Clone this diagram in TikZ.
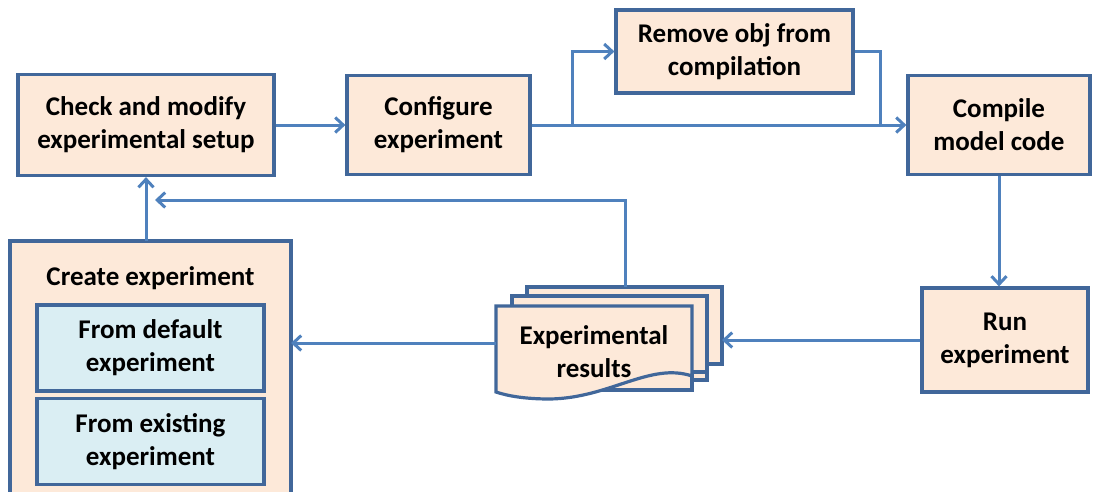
\documentclass[tikz,border=0pt]{standalone}
\usepackage{fontspec}
\setmainfont{Carlito}
\usetikzlibrary{arrows.meta}
\definecolor{peach}{HTML}{FDE9D9}
\definecolor{lblue}{HTML}{DAEEF3}
\definecolor{edge}{HTML}{41679A}
\definecolor{arr}{HTML}{4F81BD}
\tikzset{
  box/.style={draw=edge, line width=3.2pt, fill=peach, align=center, font=\fontsize{27}{33}\selectfont\bfseries, inner sep=0pt},
  inbox/.style={box, fill=lblue},
  conn/.style={draw=arr, line width=3pt, -{Straight Barb[length=8pt,width=15pt,line width=3pt]}},
  line/.style={draw=arr, line width=3pt},
  lbl/.style={align=center, font=\fontsize{27}{33}\selectfont\bfseries, inner sep=0pt}
}
\begin{document}
\begin{tikzpicture}[x=1pt,y=-1pt]
\useasboundingbox (0,0) rectangle (1097,491);
\clip (0,0) rectangle (1097,491);
% boxes
\node[box, minimum width=256pt, minimum height=101pt] (check) at (146,125) {Check and modify\\experimental setup};
\node[box, minimum width=183pt, minimum height=99pt] (config) at (438.5,125) {Configure\\experiment};
\node[box, minimum width=237pt, minimum height=83pt] (remove) at (734.5,51.5) {Remove obj from\\compilation};
\node[box, minimum width=182pt, minimum height=99pt] (compile) at (999,125) {Compile\\model code};
\node[box, minimum width=166pt, minimum height=104pt] (run) at (1005,340) {Run\\experiment};
% create experiment container
\fill[peach] (10,241) rectangle (291,495);
\draw[edge, line width=3.2pt] (10,495) -- (10,241) -- (291,241) -- (291,495);
\coordinate (create) at (150.5,241);
\coordinate (createR) at (291,343);
\node[lbl] (createT) at (150.5,278) {Create experiment};
\node[inbox, minimum width=227pt, minimum height=86pt] (default) at (150.5,348) {From default\\experiment};
\node[inbox, minimum width=227pt, minimum height=86pt] (exist) at (150.5,441.5) {From existing\\experiment};
% multi document
\begin{scope}[edge, line width=3.2pt]
\draw[fill=peach] (527,287) -- (722,287) -- (722,364) -- (707,364) -- (707,380) -- (527,380) -- cycle;
\draw[fill=peach] (512,296) -- (707,296) -- (707,372) -- (692,372) -- (692,390) -- (512,390) -- cycle;
\draw[fill=peach] (496,306) -- (692,306) -- (692,376)
  .. controls (650,362) and (610,398) .. (550,399)
  .. controls (525,399) and (508,396) .. (496,392) -- cycle;
\end{scope}
\node[lbl] (res) at (594,352) {Experimental\\results};
\coordinate (resL) at (496,343);
\coordinate (resR) at (722,340);
\coordinate (resT) at (625,287);
% connectors
\draw[conn] (check.east) -- (config.west);
\draw[conn] (config.east) -- (compile.west);
\draw[conn] (config.east -| 572,0) |- (remove.west);
\draw[line] (remove.east) -| (880,125);
\draw[conn] (compile.south) -- (compile.south |- run.north);
\draw[conn] (run.west) -- (resR);
\draw[conn] (resL) -- (createR);
\draw[conn] (resT) |- (155,200);
\draw[conn] (check.south |- create) -- (check.south);
\end{tikzpicture}
\end{document}
